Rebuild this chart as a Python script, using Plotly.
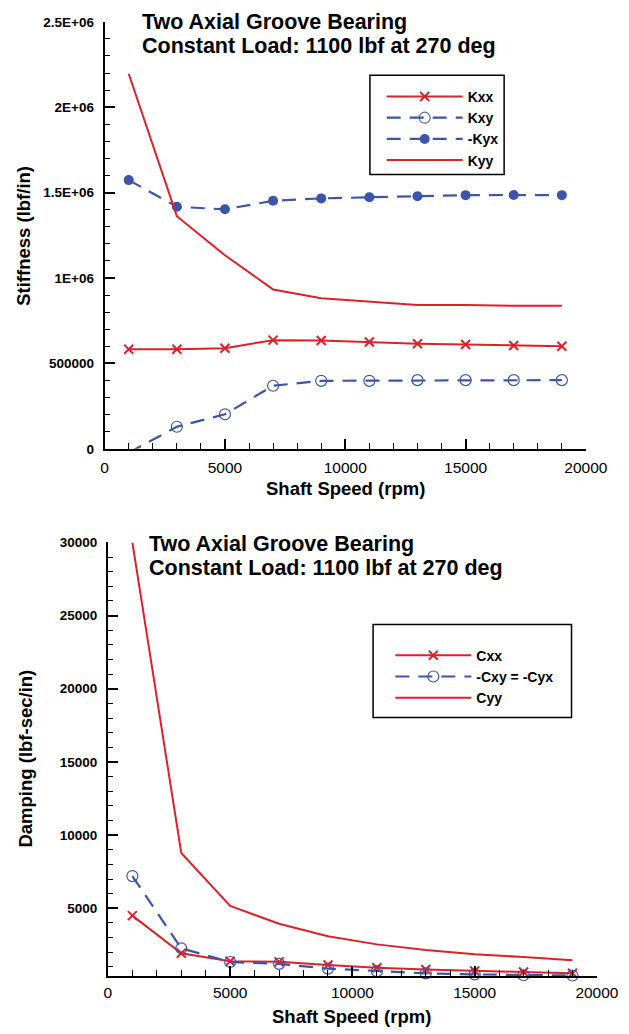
import plotly.graph_objects as go

# ---------------- data ----------------
speed = [1000, 3000, 5000, 7000, 9000, 11000, 13000, 15000, 17000, 19000]

Kxx = [583000, 583000, 589000, 636000, 634000, 625000, 615000, 611000, 605000, 600000]
Kxy = [-23000, 129000, 202000, 369000, 398000, 398000, 402000, 402000, 402000, 402000]
neg_Kyx = [1573000, 1417000, 1402000, 1452000, 1466000, 1473000, 1479000, 1485000, 1486000, 1485000]
Kyy = [2196000, 1362000, 1133000, 933000, 881000, 860000, 842000, 842000, 837000, 837000]

Cxx = [4500, 1930, 1375, 1340, 1120, 940, 820, 710, 645, 555]
neg_Cxy = [7200, 2265, 1330, 1200, 880, 700, 555, 480, 425, 405]
Cyy = [30000, 8780, 5160, 3940, 3095, 2533, 2156, 1867, 1667, 1450]

stiff_tickvals = [0, 500000, 1000000, 1500000, 2000000, 2500000]
stiff_ticktext = ["0", "500000", "1E+06", "1.5E+06", "2E+06", "2.5E+06"]
damp_tickvals = [5000, 10000, 15000, 20000, 25000, 30000]
damp_ticktext = ["5000", "10000", "15000", "20000", "25000", "30000"]
speed_tickvals = [0, 5000, 10000, 15000, 20000]
speed_ticktext = ["0", "5000", "10000", "15000", "20000"]

title_line1 = "Two Axial Groove Bearing"
title_line2 = "Constant Load: 1100 lbf at 270 deg"

# ---------------- style ----------------
W, H = 629, 1034
FONT = "Liberation Sans, Arial, Helvetica, sans-serif"
RED = "#dc2229"
BLUE = "#3d55a8"
DASH = "14px,9px"


def px(x):
    return x / W


def py(y):
    return 1 - y / H


# markers falling below the stiffness axis are hidden (clipped like the original)
kxy_marker_opacity = [0 if v < 0 else 1 for v in Kxy]

fig = go.Figure()

# Top chart: stiffness
fig.add_trace(go.Scatter(x=speed, y=Kxx, name="Kxx", mode="lines+markers",
                         line=dict(color=RED, width=2),
                         marker=dict(symbol="x-thin", size=9, color=RED,
                                     line=dict(color=RED, width=2)),
                         xaxis="x", yaxis="y", legend="legend"))
fig.add_trace(go.Scatter(x=speed, y=Kxy, name="Kxy", mode="lines+markers",
                         line=dict(color=BLUE, width=2.2, dash=DASH),
                         marker=dict(symbol="circle-open", size=11, color=BLUE,
                                     opacity=kxy_marker_opacity,
                                     line=dict(color=BLUE, width=1.2)),
                         xaxis="x", yaxis="y", legend="legend"))
fig.add_trace(go.Scatter(x=speed, y=neg_Kyx, name="-Kyx", mode="lines+markers",
                         line=dict(color=BLUE, width=2.2, dash=DASH),
                         marker=dict(symbol="circle", size=10, color=BLUE),
                         xaxis="x", yaxis="y", legend="legend"))
fig.add_trace(go.Scatter(x=speed, y=Kyy, name="Kyy", mode="lines",
                         line=dict(color=RED, width=2),
                         xaxis="x", yaxis="y", legend="legend"))

# Bottom chart: damping
fig.add_trace(go.Scatter(x=speed, y=Cxx, name="Cxx", mode="lines+markers",
                         line=dict(color=RED, width=2),
                         marker=dict(symbol="x-thin", size=9, color=RED,
                                     line=dict(color=RED, width=2)),
                         cliponaxis=False,
                         xaxis="x2", yaxis="y2", legend="legend2"))
fig.add_trace(go.Scatter(x=speed, y=neg_Cxy, name="-Cxy = -Cyx", mode="lines+markers",
                         line=dict(color=BLUE, width=2.2, dash=DASH),
                         marker=dict(symbol="circle-open", size=11, color=BLUE,
                                     line=dict(color=BLUE, width=1.2)),
                         cliponaxis=False,
                         xaxis="x2", yaxis="y2", legend="legend2"))
fig.add_trace(go.Scatter(x=speed, y=Cyy, name="Cyy", mode="lines",
                         line=dict(color=RED, width=2),
                         xaxis="x2", yaxis="y2", legend="legend2"))

common = dict(showline=True, linecolor="black", linewidth=2,
              ticks="inside", ticklen=10, tickwidth=2, tickcolor="black",
              showgrid=False, zeroline=False, mirror=False, fixedrange=True)
xfont = dict(family=FONT, size=15.5, color="black")
yfont = dict(family=FONT, size=13.5, color="black", weight="bold")

fig.update_layout(
    width=W, height=H,
    margin=dict(l=0, r=0, t=0, b=0),
    paper_bgcolor="white", plot_bgcolor="white",
    font=dict(family=FONT, color="black"),
    xaxis=dict(**common, domain=[px(105), px(607)], anchor="y", range=[0, 20000],
               tickvals=speed_tickvals, ticktext=speed_ticktext, tickfont=xfont,
               ticklabelstandoff=4,
               minor=dict(ticks="inside", ticklen=6, tickwidth=1, tickcolor="black",
                          dtick=1000, tick0=0, showgrid=False)),
    yaxis=dict(**common, domain=[py(448.3), py(15)], anchor="x", range=[0, 2500000],
               tickvals=stiff_tickvals, ticktext=stiff_ticktext, tickfont=yfont,
               ticklabelstandoff=6,
               minor=dict(ticks="inside", ticklen=5, tickwidth=1, tickcolor="black",
                          dtick=100000, tick0=0, showgrid=False)),
    xaxis2=dict(**common, domain=[px(108.4), px(618.5)], anchor="y2", range=[0, 20000],
                tickvals=speed_tickvals, ticktext=speed_ticktext, tickfont=xfont,
                ticklabelstandoff=1,
                minor=dict(ticks="inside", ticklen=6, tickwidth=1, tickcolor="black",
                           dtick=1000, tick0=0, showgrid=False)),
    yaxis2=dict(**common, domain=[py(983.3), py(543.3)], anchor="x2", range=[370, 30000],
                tickvals=damp_tickvals, ticktext=damp_ticktext, tickfont=yfont,
                ticklabelstandoff=6,
                minor=dict(ticks="inside", ticklen=5, tickwidth=1, tickcolor="black",
                           dtick=1000, tick0=0, showgrid=False)),
    legend=dict(x=px(394), y=py(75), xanchor="left", yanchor="top",
                bgcolor="rgba(0,0,0,0)", borderwidth=0, itemwidth=76,
                font=dict(family=FONT, size=14, color="black", weight="bold"),
                tracegroupgap=0),
    legend2=dict(x=px(403), y=py(642), xanchor="left", yanchor="top",
                 bgcolor="rgba(0,0,0,0)", borderwidth=0, itemwidth=76,
                 font=dict(family=FONT, size=14, color="black", weight="bold"),
                 tracegroupgap=0),
    showlegend=True,
)

# legend boxes
fig.add_shape(type="rect", xref="paper", yref="paper",
              x0=px(381.7), x1=px(521.7), y0=py(170), y1=py(69.3),
              line=dict(color="black", width=1.5), fillcolor="white", layer="below")
fig.add_shape(type="rect", xref="paper", yref="paper",
              x0=px(385), x1=px(592), y0=py(721), y1=py(626.7),
              line=dict(color="black", width=1.5), fillcolor="white", layer="below")

tfont = dict(family=FONT, size=21.5, color="black", weight="bold")
afont = dict(family=FONT, size=18.5, color="black", weight="bold")


def ann(text, x, y, font, xanchor="left", angle=0):
    fig.add_annotation(text=text, xref="paper", yref="paper", x=x, y=y,
                       xanchor=xanchor, yanchor="middle", showarrow=False,
                       font=font, textangle=angle, borderpad=0)


# chart titles
ann(title_line1, px(143), py(15.2), tfont)
ann(title_line2, px(143), py(39.8), tfont)
ann(title_line1, px(150), py(544.8), tfont)
ann(title_line2, px(150), py(569.4), tfont)

# axis titles
ann("Stiffness (lbf/in)", px(21), py(232), afont, xanchor="center", angle=-90)
ann("Shaft Speed (rpm)", px(356), py(489), afont, xanchor="center")
ann("Damping (lbf-sec/in)", px(22), py(762.5), afont, xanchor="center", angle=-90)
ann("Shaft Speed (rpm)", px(363), py(1024), afont, xanchor="center")

fig.write_html("out.html", config=dict(displayModeBar=False),
               post_script="document.body.style.margin='0';document.body.style.overflow='hidden';")
